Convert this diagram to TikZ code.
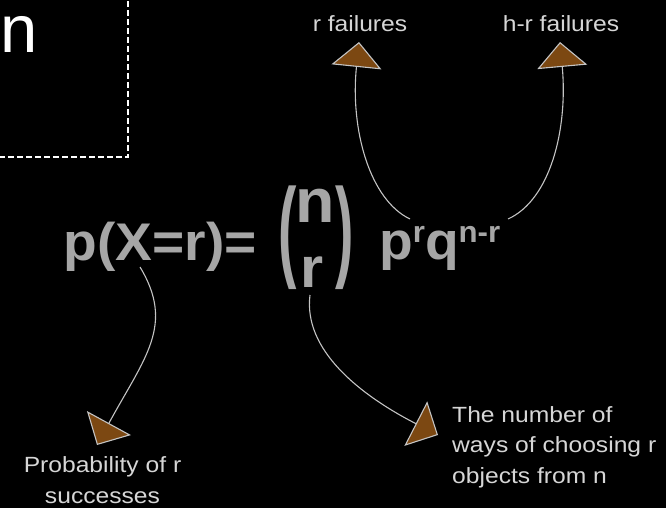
\documentclass[tikz,border=0pt]{standalone}
\usepackage{graphicx}
\usepackage{fontspec}
\setmainfont{Liberation Sans}
\newfontfamily\lblfont[FakeStretch=1.12]{Liberation Sans}
\newfontfamily\eqfont[FakeStretch=1.04]{Liberation Sans}
\usetikzlibrary{arrows.meta}
\definecolor{eqgray}{HTML}{A6A6A6}
\definecolor{lblgray}{HTML}{D6D6D6}
\definecolor{linegray}{HTML}{C4C4C4}
\definecolor{tipbrown}{RGB}{124,72,18}

\begin{document}
\begin{tikzpicture}[x=1pt,y=-1pt,lbl/.style={text=lblgray,font=\lblfont\fontsize{22}{30.5}\selectfont,inner sep=0},eq/.style={text=eqgray,inner sep=0,font=\eqfont\bfseries\fontsize{#1}{#1}\selectfont},eq/.default=53,a/.style={-{Triangle[width=50pt,length=25pt,fill=tipbrown]},draw=linegray,line width=1.1pt}]
\fill[black] (0,0) rectangle (666,508);
\useasboundingbox (0,0) rectangle (666,508);
\draw[white,line width=1.4pt,dash pattern=on 6pt off 3pt] (-10,157) -| (128,-10);
\node[anchor=base west,inner sep=0,text=white,font=\fontsize{67}{70}\selectfont] (n) at (0,53) {n};
% formula
\node[eq,anchor=base east] (lhs) at (257,260) {p(X=r)=};
\node[eq,anchor=base west] (binom) at (278.3,266.7) {\scalebox{1}[2.1]{(}\hspace{-1.35pt}\rlap{\raisebox{44.7pt}{\fontsize{62}{62}\selectfont n}}\hspace{4.67pt}\rlap{\raisebox{-20.3pt}{\fontsize{57}{57}\selectfont r}}\hspace{34.83pt}\scalebox{1}[2.1]{)}};
\node[eq,anchor=base west] (rhs) at (379,259) {p\raisebox{17pt}{\fontsize{30}{30}\selectfont r}q\raisebox{17pt}{\fontsize{30}{30}\selectfont n-r}};
% labels
\node[lbl,anchor=base] (rf) at (360,32) {r failures};
\node[lbl,anchor=base] (hf) at (561,32) {h-r failures};
\node[lbl,anchor=base,align=center] (prob) at (102.5,503) {Probability of r\\successes};
\node[lbl,anchor=base west,align=left] (ways) at (452,483) {The number of\\ways of choosing r\\objects from n};
% curved pointers
\coordinate (xs) at (140,267); \coordinate (rs) at (310,295);
\coordinate (pl) at (410,219); \coordinate (pr) at (508,219);
\coordinate (rft) at (359,42); \coordinate (hft) at (560,42);
\coordinate (probt) at (97,445); \coordinate (wayst) at (438,435);
\draw[a] (pl) .. controls (370,200) and (350,130) .. (rft);
\draw[a] (pr) .. controls (550,200) and (568,130) .. (hft);
\draw[a] (xs) .. controls (175,325) and (145,357) .. (probt);
\draw[a] (rs) .. controls (303,350) and (360,395) .. (wayst);
\end{tikzpicture}
\end{document}
